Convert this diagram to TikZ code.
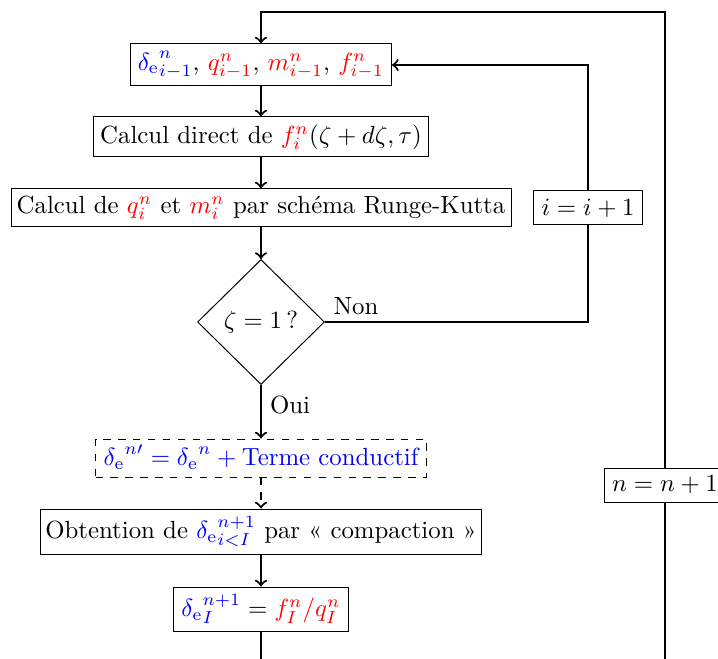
\documentclass[tikz,border=0pt]{standalone}
\usetikzlibrary{shapes.geometric}
\newcommand{\dlt}[2]{{\color{blue}{\delta_{\mathrm{e}}}^{#1}_{#2}}}
\newcommand{\rd}[1]{{\color{red}#1}}
\def\px{0.403pt}
\begin{document}
\begin{tikzpicture}[x=\px,y=-\px,
  box/.style={draw,rectangle,line width=0.4pt,inner sep=0pt},
  dbox/.style={box,dashed},
  sz/.style 2 args={minimum width=#1*\px,minimum height=#2*\px},
  conn/.style={line width=0.85pt},
  arr/.style={conn,->},
  lbl/.style={inner sep=0pt}]
\clip (0,0) rectangle (718,659);
\node[box,sz={261}{42}] (b1) at (261,65) {$\dlt{n}{i-1}$, $\rd{q^n_{i-1}}$, $\rd{m^n_{i-1}}$, $\rd{f^n_{i-1}}$};
\node[box,sz={335}{40}] (b2) at (261,137) {Calcul direct de $\rd{f_i^n}(\zeta+d\zeta,\tau)$};
\node[box,sz={500}{38}] (b3) at (261,208) {Calcul de $\rd{q_i^n}$ et $\rd{m_i^n}$ par schéma Runge-Kutta};
\node[draw,diamond,line width=0.4pt,inner sep=0pt,sz={127}{125}] (dia) at (261,322) {$\zeta=1\,?$};
\node[box,sz={109}{34}] (ii) at (588,208) {$i=i+1$};
\node[dbox,sz={331}{38}] (b4) at (261,458) {\color{blue}$\dlt{n\prime}{}=\dlt{n}{}+\mbox{Terme conductif}$};
\node[box,sz={441}{45}] (b5) at (261,531.5) {Obtention de $\dlt{n+1}{i<I}$ par « compaction »};
\node[box,sz={175}{44}] (b6) at (261,609) {$\dlt{n+1}{I}=\rd{f^n_I/q^n_I}$};
\node[box,sz={122}{34}] (nn) at (665,485) {$n=n+1$};
\node[lbl] (non) at (356,306) {Non};
\node[lbl] (oui) at (290,405) {Oui};
\coordinate (c2) at (588,65);
\coordinate (c3) at (261,720);
\coordinate (c4) at (665,720);
\coordinate (c5) at (665,12);
\coordinate (c6) at (261,12);
\draw[arr] (b1) -- (b2);
\draw[arr] (b2) -- (b3);
\draw[arr] (b3) -- (dia);
\draw[arr] (dia) -- (b4);
\draw[arr,dashed] (b4) -- (b5);
\draw[arr] (b5) -- (b6);
\draw[conn] (dia.east) -- (dia.east -| ii.south) -- (ii.south);
\draw[arr] (ii.north) -- (c2) -- (b1.east);
\draw[conn] (b6.south) -- (c3) -- (c4) -- (nn.south);
\draw[arr] (nn.north) -- (c5) -- (c6) -- (b1.north);
\end{tikzpicture}
\end{document}
